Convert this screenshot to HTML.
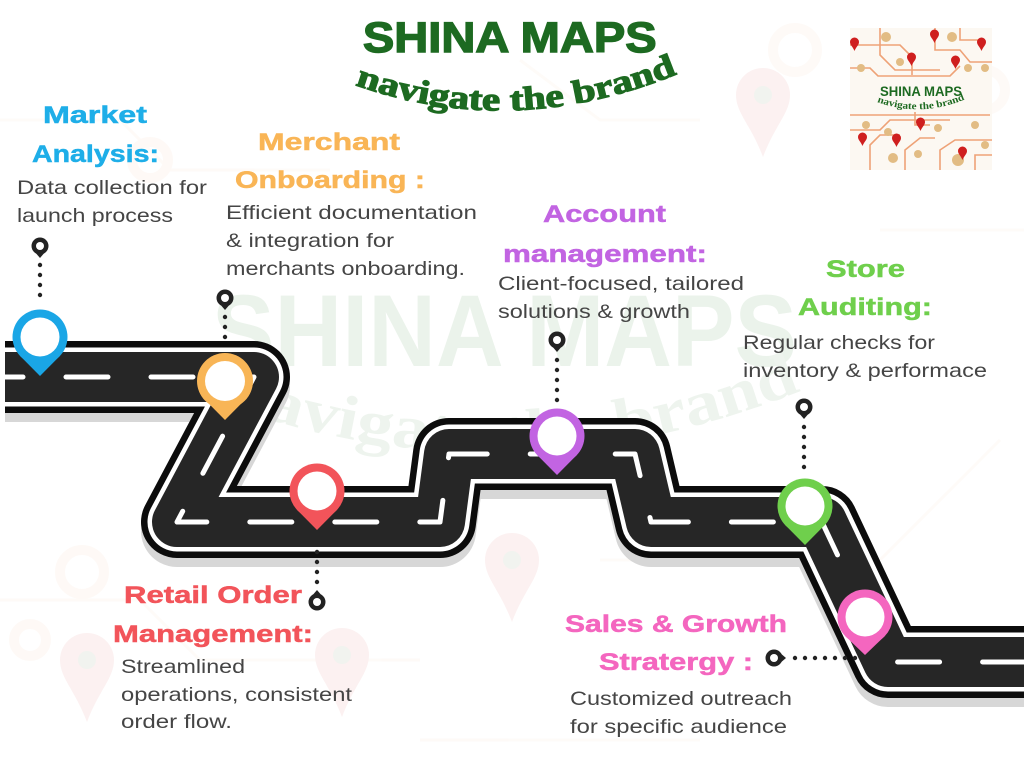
<!DOCTYPE html>
<html><head><meta charset="utf-8"><style>
html,body{margin:0;padding:0;background:#fff;}
svg{display:block;}
.h{font-family:"Liberation Sans",sans-serif;font-weight:bold;font-size:24px;}
.b{font-family:"Liberation Sans",sans-serif;font-size:19px;fill:#454545;}
</style></head><body>
<svg width="1024" height="768" viewBox="0 0 1024 768" xmlns="http://www.w3.org/2000/svg">
<rect width="1024" height="768" fill="#fff"/>

<!-- faint background decorations -->
<g opacity="0.2">
  <g fill="none" stroke="#fbe9dc" stroke-width="3">
    <path d="M0,120 L120,120 L170,170 L330,170"/>
    <path d="M520,60 L600,120 L700,120"/>
    <path d="M880,230 L1024,230"/>
    <path d="M0,600 L140,600 L200,660 L420,660"/>
    <path d="M600,560 L760,560"/>
    <path d="M880,560 L1000,440"/>
    <path d="M420,740 L700,740"/>
  </g>
  <g fill="none" stroke="#fbe4d6" stroke-width="10">
    <circle cx="82" cy="572" r="22"/>
    <circle cx="30" cy="640" r="16"/>
    <circle cx="795" cy="50" r="22"/>
    <circle cx="985" cy="90" r="20"/>
    <circle cx="150" cy="160" r="18"/>
  </g>
</g>
<g fill="#fcf1f1">
  <path d="M736,95 a27,27 0 0 1 54,0 c0,18 -15,30 -27,62 c-12,-32 -27,-44 -27,-62z"/>
  <path d="M60,660 a27,27 0 0 1 54,0 c0,18 -15,30 -27,62 c-12,-32 -27,-44 -27,-62z"/>
  <path d="M315,655 a27,27 0 0 1 54,0 c0,18 -15,30 -27,62 c-12,-32 -27,-44 -27,-62z"/>
  <path d="M485,560 a27,27 0 0 1 54,0 c0,18 -15,30 -27,62 c-12,-32 -27,-44 -27,-62z"/>
</g>
<g fill="#f1f3ef">
  <circle cx="763" cy="95" r="9"/><circle cx="87" cy="660" r="9"/><circle cx="342" cy="655" r="9"/><circle cx="512" cy="560" r="9"/>
</g>

<!-- watermark -->
<text x="212" y="366" font-family="Liberation Sans,sans-serif" font-weight="bold" font-size="102" fill="#ebf3eb" textLength="585" lengthAdjust="spacingAndGlyphs">SHINA MAPS</text>
<path id="wm" d="M225,405 Q505,505 790,395" fill="none"/>
<text font-family="Liberation Serif,serif" font-weight="bold" font-size="62" fill="#eef4ee"><textPath href="#wm" textLength="590" lengthAdjust="spacingAndGlyphs">navigate the brand</textPath></text>

<!-- Title -->
<g transform="scale(1.08,1)">
<text x="336" y="52" font-family="Liberation Sans,sans-serif" font-weight="bold" font-size="43" fill="#1d6a21" stroke="#1d6a21" stroke-width="1.4" textLength="272" lengthAdjust="spacingAndGlyphs">SHINA MAPS</text>
</g>
<path id="sub" d="M355,85 Q511,140 672,76" fill="none"/>
<text font-family="Liberation Serif,serif" font-weight="bold" font-size="33" fill="#1d6a21" stroke="#1d6a21" stroke-width="1.2"><textPath href="#sub" textLength="330" lengthAdjust="spacingAndGlyphs">navigate the brand</textPath></text>

<!-- Logo -->
<g>
  <rect x="850" y="28" width="142" height="142" fill="#fcf8f2"/>
  <g fill="none" stroke="#eea277" stroke-width="1.6">
    <path d="M850,45 L900,45 L912,57 L912,75"/>
    <path d="M880,28 L880,55 L895,70 L940,70"/>
    <path d="M935,28 L935,50 L960,50 L970,62 L992,62"/>
    <path d="M850,68 L870,68 L878,76 L950,76 L960,66"/>
    <path d="M960,28 L960,40 L985,40"/>
    <path d="M850,130 L880,130 L890,120 L950,120"/>
    <path d="M850,115 L990,115"/>
    <path d="M870,170 L870,145 L880,135 L900,135"/>
    <path d="M905,170 L905,150 L920,138 L935,138"/>
    <path d="M940,170 L940,150 L955,140 L992,140"/>
    <path d="M915,112 L915,125 L930,125"/>
    <path d="M975,170 L975,155 L992,155"/>
  </g>
  <g fill="#e2bc84">
    <circle cx="886" cy="37" r="5"/><circle cx="952" cy="37" r="5"/><circle cx="861" cy="68" r="4"/>
    <circle cx="900" cy="62" r="4"/><circle cx="968" cy="68" r="4"/><circle cx="985" cy="68" r="4"/>
    <circle cx="866" cy="125" r="4"/><circle cx="888" cy="132" r="4"/><circle cx="938" cy="128" r="4"/>
    <circle cx="975" cy="125" r="4"/><circle cx="893" cy="158" r="5"/><circle cx="918" cy="154" r="4"/>
    <circle cx="958" cy="160" r="6"/><circle cx="985" cy="145" r="4"/>
  </g>
  <g fill="#cf1f1f">
    <path d="M850,42 a4.5,4.5 0 0 1 9,0 c0,3 -3,5 -4.5,9 c-1.5,-4 -4.5,-6 -4.5,-9z"/>
    <path d="M930,34 a4.5,4.5 0 0 1 9,0 c0,3 -3,5 -4.5,9 c-1.5,-4 -4.5,-6 -4.5,-9z"/>
    <path d="M977,42 a4.5,4.5 0 0 1 9,0 c0,3 -3,5 -4.5,9 c-1.5,-4 -4.5,-6 -4.5,-9z"/>
    <path d="M907,57 a4.5,4.5 0 0 1 9,0 c0,3 -3,5 -4.5,9 c-1.5,-4 -4.5,-6 -4.5,-9z"/>
    <path d="M951,60 a4.5,4.5 0 0 1 9,0 c0,3 -3,5 -4.5,9 c-1.5,-4 -4.5,-6 -4.5,-9z"/>
    <path d="M916,122 a4.5,4.5 0 0 1 9,0 c0,3 -3,5 -4.5,9 c-1.5,-4 -4.5,-6 -4.5,-9z"/>
    <path d="M858,137 a4.5,4.5 0 0 1 9,0 c0,3 -3,5 -4.5,9 c-1.5,-4 -4.5,-6 -4.5,-9z"/>
    <path d="M892,138 a4.5,4.5 0 0 1 9,0 c0,3 -3,5 -4.5,9 c-1.5,-4 -4.5,-6 -4.5,-9z"/>
    <path d="M958,151 a4.5,4.5 0 0 1 9,0 c0,3 -3,5 -4.5,9 c-1.5,-4 -4.5,-6 -4.5,-9z"/>
  </g>
  <text x="880" y="96" font-family="Liberation Sans,sans-serif" font-weight="bold" font-size="14" fill="#1d6a21" textLength="82" lengthAdjust="spacingAndGlyphs">SHINA MAPS</text>
  <path id="lsub" d="M877,102 Q921,118 966,99" fill="none"/>
  <text font-family="Liberation Serif,serif" font-weight="bold" font-size="10" fill="#1d6a21"><textPath href="#lsub" textLength="90" lengthAdjust="spacingAndGlyphs">navigate the brand</textPath></text>
</g>

<!-- Road -->
<g fill="none" stroke-linejoin="round">
  <path d="M5,377 L254,377 L177,522 L440,522 L449,454 L635,454 L651,522 L822,522 L888,662 L1040,662" stroke="#d7d7d7" stroke-width="72" transform="translate(0,9)"/>
  <path d="M5,377 L254,377 L177,522 L440,522 L449,454 L635,454 L651,522 L822,522 L888,662 L1040,662" stroke="#0c0c0c" stroke-width="72"/>
  <path d="M5,377 L254,377 L177,522 L440,522 L449,454 L635,454 L651,522 L822,522 L888,662 L1040,662" stroke="#ffffff" stroke-width="59"/>
  <path d="M5,377 L254,377 L177,522 L440,522 L449,454 L635,454 L651,522 L822,522 L888,662 L1040,662" stroke="#262626" stroke-width="50"/>
  <path d="M5,377 L254,377 L177,522 L440,522 L449,454 L635,454 L651,522 L822,522 L888,662 L1040,662" stroke="#ffffff" stroke-width="5" stroke-linecap="round" stroke-dasharray="42 43" stroke-dashoffset="24"/>
</g>
<rect x="0" y="330" width="5" height="100" fill="#fff"/>

<!-- Connectors -->
<g fill="#222">
  <circle cx="40" cy="265" r="2.2"/><circle cx="40" cy="275" r="2.2"/><circle cx="40" cy="285" r="2.2"/><circle cx="40" cy="295" r="2.2"/>
  <circle cx="225" cy="317" r="2.2"/><circle cx="225" cy="327" r="2.2"/><circle cx="225" cy="337" r="2.2"/>
  <circle cx="557" cy="360" r="2.2"/><circle cx="557" cy="370" r="2.2"/><circle cx="557" cy="380" r="2.2"/><circle cx="557" cy="390" r="2.2"/><circle cx="557" cy="400" r="2.2"/>
  <circle cx="804" cy="427" r="2.2"/><circle cx="804" cy="437" r="2.2"/><circle cx="804" cy="447" r="2.2"/><circle cx="804" cy="457" r="2.2"/><circle cx="804" cy="467" r="2.2"/>
  <circle cx="317" cy="552" r="2.2"/><circle cx="317" cy="562" r="2.2"/><circle cx="317" cy="572" r="2.2"/><circle cx="317" cy="582" r="2.2"/>
  <circle cx="795" cy="658" r="2.2"/><circle cx="805" cy="658" r="2.2"/><circle cx="815" cy="658" r="2.2"/><circle cx="825" cy="658" r="2.2"/><circle cx="835" cy="658" r="2.2"/><circle cx="845" cy="658" r="2.2"/><circle cx="855" cy="658" r="2.2"/>
</g>
<g fill="#222">
  <g transform="translate(40,246)"><path d="M-6,5 L0,12 L6,5Z"/><circle r="8.5"/><circle r="4" fill="#fff"/></g>
  <g transform="translate(225,298)"><path d="M-6,5 L0,12 L6,5Z"/><circle r="8.5"/><circle r="4" fill="#fff"/></g>
  <g transform="translate(557,340)"><path d="M-6,5 L0,12 L6,5Z"/><circle r="8.5"/><circle r="4" fill="#fff"/></g>
  <g transform="translate(804,407)"><path d="M-6,5 L0,12 L6,5Z"/><circle r="8.5"/><circle r="4" fill="#fff"/></g>
  <g transform="translate(317,602) rotate(180)"><path d="M-6,5 L0,12 L6,5Z"/><circle r="8.5"/><circle r="4" fill="#fff"/></g>
  <g transform="translate(774,658) rotate(-90)"><path d="M-6,5 L0,12 L6,5Z"/><circle r="8.5"/><circle r="4" fill="#fff"/></g>
</g>

<!-- Pins -->
<g transform="translate(40,337)" fill="#1aa6e6"><path d="M-19.8,19 L0,39 L19.8,19Z"/><circle r="27.5"/><circle r="19.5" fill="#fff"/></g>
<g transform="translate(225,381)" fill="#f8b556"><path d="M-19.8,19 L0,39 L19.8,19Z"/><circle r="28"/><circle r="20" fill="#fff"/></g>
<g transform="translate(317,491)" fill="#f2545a"><path d="M-19.8,19 L0,39 L19.8,19Z"/><circle r="27.5"/><circle r="19.5" fill="#fff"/></g>
<g transform="translate(557,436)" fill="#c264e2"><path d="M-19.8,19 L0,39 L19.8,19Z"/><circle r="27.5"/><circle r="19.5" fill="#fff"/></g>
<g transform="translate(805,506)" fill="#6fcf4c"><path d="M-19.8,19 L0,39 L19.8,19Z"/><circle r="27.5"/><circle r="19.5" fill="#fff"/></g>
<g transform="translate(865,617)" fill="#f466bf"><path d="M-19.8,19 L0,38 L19.8,19Z"/><circle r="27.5"/><circle r="19.5" fill="#fff"/></g>

<!-- Headings (scaled horizontally) -->
<g class="h" transform="scale(1.32,1)" stroke-width="0.5">
  <text x="32.58" y="123" fill="#1eaee8" stroke="#1eaee8" textLength="78.8" lengthAdjust="spacingAndGlyphs">Market</text>
  <text x="24.24" y="162" fill="#1eaee8" stroke="#1eaee8" textLength="96.2" lengthAdjust="spacingAndGlyphs">Analysis:</text>
  <text x="195.45" y="150" fill="#f9b556" stroke="#f9b556" textLength="107.6" lengthAdjust="spacingAndGlyphs">Merchant</text>
  <text x="178.03" y="188" fill="#f9b556" stroke="#f9b556" textLength="143.9" lengthAdjust="spacingAndGlyphs">Onboarding :</text>
  <text x="411.36" y="222" fill="#c264e2" stroke="#c264e2" textLength="93.2" lengthAdjust="spacingAndGlyphs">Account</text>
  <text x="381.06" y="262" fill="#c264e2" stroke="#c264e2" textLength="154.5" lengthAdjust="spacingAndGlyphs">management:</text>
  <text x="625.76" y="277" fill="#6fcf4c" stroke="#6fcf4c" textLength="59.8" lengthAdjust="spacingAndGlyphs">Store</text>
  <text x="604.55" y="315" fill="#6fcf4c" stroke="#6fcf4c" textLength="101.5" lengthAdjust="spacingAndGlyphs">Auditing:</text>
  <text x="93.94" y="603" fill="#f2545a" stroke="#f2545a" textLength="134.8" lengthAdjust="spacingAndGlyphs">Retail Order</text>
  <text x="85.61" y="642" fill="#f2545a" stroke="#f2545a" textLength="151.5" lengthAdjust="spacingAndGlyphs">Management:</text>
  <text x="428.03" y="632" fill="#f466bf" stroke="#f466bf" textLength="168.2" lengthAdjust="spacingAndGlyphs">Sales &amp; Growth</text>
  <text x="453.79" y="670" fill="#f466bf" stroke="#f466bf" textLength="116.7" lengthAdjust="spacingAndGlyphs">Stratergy :</text>
</g>

<!-- Body text (scaled horizontally) -->
<g class="b" transform="scale(1.24,1)">
  <text x="13.71" y="194" textLength="153.2" lengthAdjust="spacingAndGlyphs">Data collection for</text>
  <text x="13.71" y="222" textLength="125.8" lengthAdjust="spacingAndGlyphs">launch process</text>
  <text x="182.26" y="219" textLength="202.4" lengthAdjust="spacingAndGlyphs">Efficient documentation</text>
  <text x="182.26" y="247" textLength="135.5" lengthAdjust="spacingAndGlyphs">&amp; integration for</text>
  <text x="182.26" y="275" textLength="192.7" lengthAdjust="spacingAndGlyphs">merchants onboarding.</text>
  <text x="401.61" y="290" textLength="198.4" lengthAdjust="spacingAndGlyphs">Client-focused, tailored</text>
  <text x="401.61" y="318" textLength="154.8" lengthAdjust="spacingAndGlyphs">solutions &amp; growth</text>
  <text x="599.19" y="349" textLength="154.8" lengthAdjust="spacingAndGlyphs">Regular checks for</text>
  <text x="599.19" y="377" textLength="196.8" lengthAdjust="spacingAndGlyphs">inventory &amp; performace</text>
  <text x="97.58" y="673" textLength="100" lengthAdjust="spacingAndGlyphs">Streamlined</text>
  <text x="97.58" y="701" textLength="186.3" lengthAdjust="spacingAndGlyphs">operations, consistent</text>
  <text x="97.58" y="728" textLength="89.5" lengthAdjust="spacingAndGlyphs">order flow.</text>
  <text x="459.68" y="705" textLength="179" lengthAdjust="spacingAndGlyphs">Customized outreach</text>
  <text x="459.68" y="733" textLength="175" lengthAdjust="spacingAndGlyphs">for specific audience</text>
</g>
</svg>
</body></html>
